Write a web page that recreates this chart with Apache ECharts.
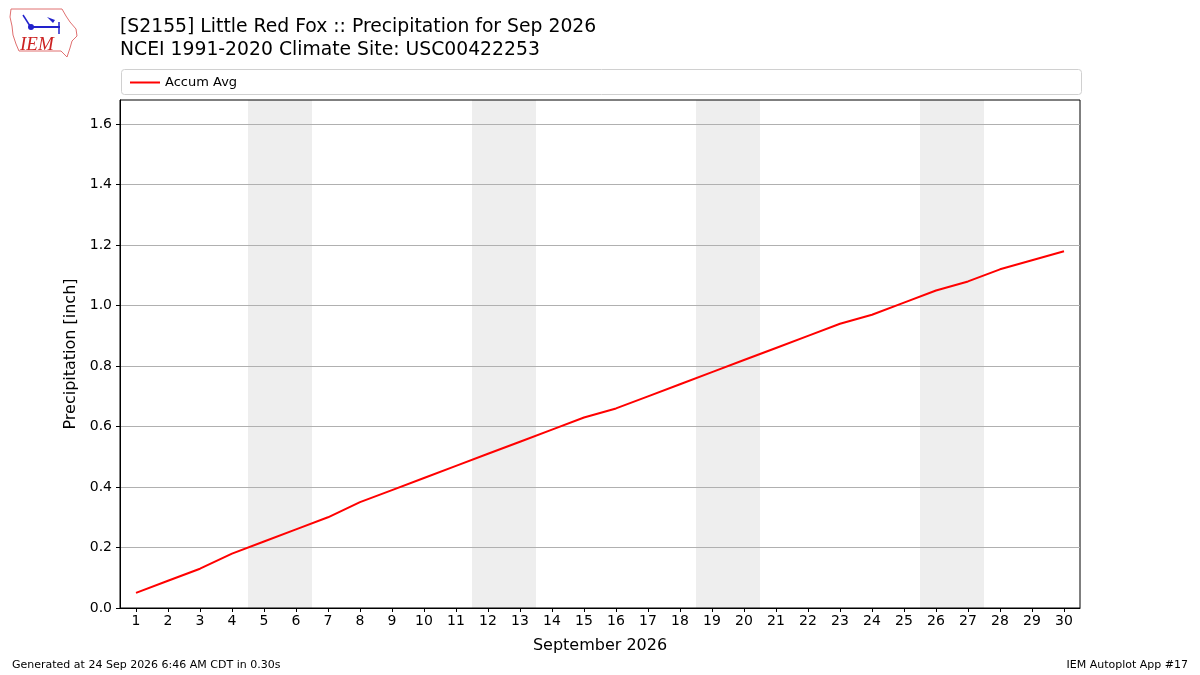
<!DOCTYPE html>
<html style="height: 100%">
<head>
<meta charset="utf-8">
<script type="text/javascript" src="https://cdn.jsdelivr.net/npm/echarts@6/dist/echarts.min.js"></script>
<style type="text/css">
  body { margin: 0; height: 100%; background: #fff; }
  #container { width: 1200px; height: 675px; }
</style>
</head>
<body>
<div id="container"></div>
<script type="text/javascript">
// days of September 2026
var days = [];
for (var d = 1; d <= 30; d++) days.push(d);

// accumulated average precipitation (inch)
var accumAvg = [0.05, 0.09, 0.13, 0.18, 0.22, 0.26, 0.30, 0.35, 0.39, 0.43,
                0.47, 0.51, 0.55, 0.59, 0.63, 0.66, 0.70, 0.74, 0.78, 0.82,
                0.86, 0.90, 0.94, 0.97, 1.01, 1.05, 1.08, 1.12, 1.15, 1.18];

// weekends (Sat/Sun) shaded
var weekends = [[5, 6], [12, 13], [19, 20], [26, 27]];

var yTicks = [0, 0.2, 0.4, 0.6, 0.8, 1.0, 1.2, 1.4, 1.6];

var font = 'DejaVu Sans';
var dom = document.getElementById('container');
var myChart = echarts.init(dom);

var lineData = days.map(function (d, i) { return [d, accumAvg[i]]; });
var shade = weekends.map(function (w) {
    return [{ xAxis: w[0] - 0.5 }, { xAxis: w[1] + 0.5 }];
});

var option = {
    animation: false,
    backgroundColor: '#fff',
    textStyle: { fontFamily: font },
    title: {
        text: '[S2155] Little Red Fox :: Precipitation for Sep 2026\nNCEI 1991-2020 Climate Site: USC00422253',
        left: 115,
        top: 11,
        textStyle: { fontFamily: font, fontSize: 18.8, fontWeight: 'normal', color: '#000', lineHeight: 23 }
    },
    legend: {
        left: 125,
        top: 71,
        icon: 'rect',
        itemWidth: 30,
        itemHeight: 2,
        itemGap: 10,
        textStyle: { fontFamily: font, fontSize: 13, color: '#000' },
        data: ['Accum Avg']
    },
    grid: {
        left: 120,
        right: 120,
        top: 100,
        bottom: 67,
        show: true,
        borderColor: '#000',
        borderWidth: 1,
        z: 3
    },
    xAxis: {
        type: 'value',
        min: 0.5,
        max: 30.5,
        z: 10,
        name: 'September 2026',
        nameLocation: 'middle',
        nameGap: 30,
        nameTextStyle: { fontFamily: font, fontSize: 16, color: '#000' },
        axisLine: { lineStyle: { color: '#000' } },
        axisTick: { show: true, length: 4, customValues: days, lineStyle: { color: '#000' } },
        axisLabel: { customValues: days, color: '#000', fontSize: 14, fontFamily: font, margin: 6 },
        splitLine: { show: false }
    },
    yAxis: {
        type: 'value',
        min: 0,
        max: 1.68,
        z: 10,
        name: 'Precipitation [inch]',
        nameLocation: 'middle',
        nameGap: 38,
        nameTextStyle: { fontFamily: font, fontSize: 16, color: '#000' },
        axisLine: { show: true, lineStyle: { color: '#000' } },
        axisTick: { show: true, length: 4, customValues: yTicks, lineStyle: { color: '#000' } },
        axisLabel: {
            customValues: yTicks,
            color: '#000', fontSize: 14, fontFamily: font, margin: 8,
            formatter: function (v) { return v.toFixed(1); }
        },
        splitLine: { show: false }
    },
    series: [{
        name: 'weekend',
        type: 'line',
        data: [],
        z: 1,
        silent: true,
        markArea: {
            silent: true,
            itemStyle: { color: '#eeeeee' },
            data: shade
        },
        markLine: {
            silent: true,
            symbol: 'none',
            label: { show: false },
            lineStyle: { color: '#b0b0b0', type: 'solid', width: 1 },
            data: yTicks.slice(1).map(function (v) { return { yAxis: v }; })
        }
    }, {
        name: 'Accum Avg',
        type: 'line',
        data: lineData,
        symbol: 'none',
        color: '#ff0000',
        lineStyle: { color: '#ff0000', width: 2 },
        z: 5
    }],
    graphic: [
        // legend frame
        { type: 'rect', left: 119, top: 67, shape: { width: 960, height: 25, r: 3 },
          style: { fill: 'none', stroke: '#d0d0d0', lineWidth: 1 }, z: -1 },
        // IEM logo (rough)
        { type: 'polyline', shape: { points: [[11,9],[62,9],[66,16],[70,22],[76,29],[77,36],[72,41],[70,48],[67,57],[61,51],[19,51],[16,44],[13,35],[12,26],[10,17],[11,9]] },
          style: { fill: 'none', stroke: '#e07070', lineWidth: 1 } },
        { type: 'text', left: 20, top: 35, style: { text: 'IEM', fill: '#cc2222', font: 'italic 19px "Liberation Serif"' } },
        { type: 'line', shape: { x1: 30, y1: 27, x2: 60, y2: 27 }, style: { stroke: '#2222cc', lineWidth: 2 } },
        { type: 'circle', shape: { cx: 31, cy: 27, r: 3 }, style: { fill: '#2222cc' } },
        { type: 'line', shape: { x1: 23, y1: 15, x2: 30, y2: 26 }, style: { stroke: '#2222cc', lineWidth: 1.5 } },
        { type: 'polygon', shape: { points: [[47,17],[55,20],[53,23]] }, style: { fill: '#2222cc' } },
        { type: 'line', shape: { x1: 59, y1: 22, x2: 59, y2: 34 }, style: { stroke: '#2222cc', lineWidth: 1.5 } },
        // footer
        { type: 'text', left: 12, top: 660, style: { text: 'Generated at 24 Sep 2026 6:46 AM CDT in 0.30s', fill: '#000', font: '11px "DejaVu Sans"' } },
        { type: 'text', right: 12, top: 660, style: { text: 'IEM Autoplot App #17', fill: '#000', font: '11px "DejaVu Sans"' } }
    ]
};
myChart.setOption(option, true);
</script>
</body>
</html>
